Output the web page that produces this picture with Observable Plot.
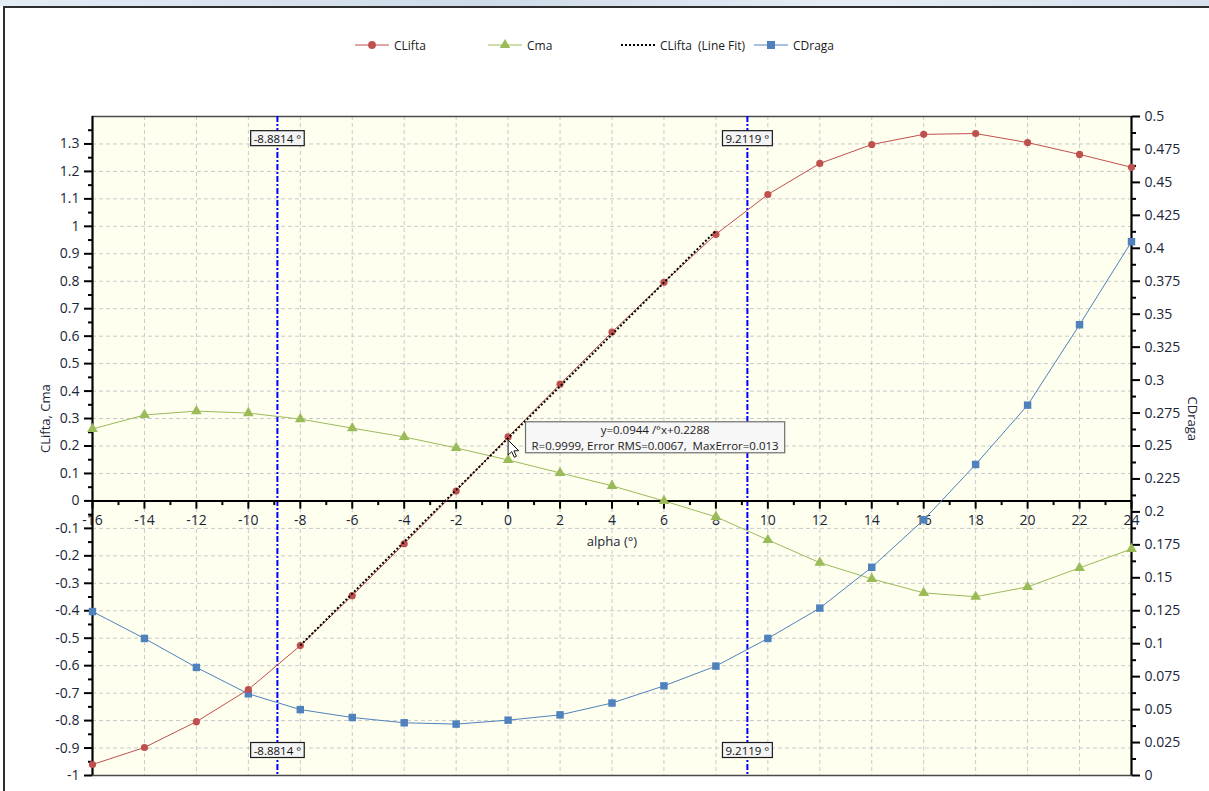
<!DOCTYPE html>
<html>
<head>
<meta charset="utf-8">
<script src="https://cdn.jsdelivr.net/npm/d3@7"></script>
<script src="https://cdn.jsdelivr.net/npm/@observablehq/plot@0.6"></script>
<style>
  html, body { margin: 0; padding: 0; background: #fff; }
  body { width: 1209px; height: 791px; overflow: hidden; position: relative;
         font-family: "Open Sans", "Noto Sans", sans-serif; }
  #strip { position: absolute; left: 0; top: 0; width: 1209px; height: 6px;
           background: linear-gradient(90deg, #e4ecf5, #cfdbe9 40%, #e6edf5 70%, #d7e1ec); z-index: 3; }
  #window { position: absolute; left: 3px; top: 6px; width: 1220px; height: 800px;
            border-left: 2px solid #2e2e2e; border-top: 2px solid #2e2e2e; z-index: 3; pointer-events: none; }
  #legend { position: relative; height: 79px; }
  #legend .items { position: absolute; left: 355px; top: 37px; display: grid;
                   grid-template-columns: repeat(4, 133px); font-size: 12px; color: #1b1b1b; }
  #legend .item { display: flex; align-items: center; white-space: pre; height: 16px; }
  #legend svg { margin-right: 5px; flex: none; }
  svg.chart text.pre { white-space: pre; }
</style>
</head>
<body>
<div id="strip"></div>
<div id="window"></div>
<div id="legend"><div class="items"></div></div>
<div id="chart"></div>
<script>
// Angle of attack (degrees) and aerodynamic coefficients
const alpha   = [-16, -14, -12, -10, -8, -6, -4, -2, 0, 2, 4, 6, 8, 10, 12, 14, 16, 18, 20, 22, 24];
const cLift   = [-0.960, -0.898, -0.804, -0.687, -0.527, -0.345, -0.156, 0.036, 0.233, 0.425, 0.615, 0.796, 0.971, 1.116, 1.229, 1.298, 1.335, 1.338, 1.305, 1.262, 1.215];
const cMoment = [0.262, 0.313, 0.327, 0.320, 0.298, 0.265, 0.233, 0.193, 0.149, 0.102, 0.055, 0.000, -0.058, -0.142, -0.225, -0.284, -0.335, -0.349, -0.313, -0.244, -0.175];
const cDrag   = [0.1244, 0.104, 0.082, 0.062, 0.050, 0.044, 0.040, 0.039, 0.042, 0.046, 0.055, 0.068, 0.083, 0.104, 0.127, 0.158, 0.194, 0.236, 0.281, 0.342, 0.405];

// Linear fit of CLift over the linear range
const fitRange = [-8, 8];
const fitSlope = 0.0944;
const fitIntercept = 0.2288;
const fitEquation = "y=0.0944 /°x+0.2288";
const fitStats = "R=0.9999, Error RMS=0.0067,  MaxError=0.013";

// Alpha where the fit line crosses the CLift curve limits
const markerAlphas = [-8.8814, 9.2119];

// Axis ticks
const xMajor = [-16, -14, -12, -10, -8, -6, -4, -2, 0, 2, 4, 6, 8, 10, 12, 14, 16, 18, 20, 22, 24];
const xMinor = [-15, -13, -11, -9, -7, -5, -3, -1, 1, 3, 5, 7, 9, 11, 13, 15, 17, 19, 21, 23];
const yMajor = [-1, -0.9, -0.8, -0.7, -0.6, -0.5, -0.4, -0.3, -0.2, -0.1, 0, 0.1, 0.2, 0.3, 0.4, 0.5, 0.6, 0.7, 0.8, 0.9, 1, 1.1, 1.2, 1.3];
const dragMajor = [0, 0.025, 0.05, 0.075, 0.1, 0.125, 0.15, 0.175, 0.2, 0.225, 0.25, 0.275, 0.3, 0.325, 0.35, 0.375, 0.4, 0.425, 0.45, 0.475, 0.5];

const seriesNames = ["CLifta", "Cma", "CLifta  (Line Fit)", "CDraga"];
const colors = { lift: "#c0504d", moment: "#9bbb59", fit: "#000000", drag: "#4f81bd" };

// Left scale domain; the drag axis on the right spans [0, 0.5] over the same height
const yDomain = [-1, 1.4];
const dragDomain = [0, 0.5];
const dragToY = v => yDomain[0] + (v - dragDomain[0]) * (yDomain[1] - yDomain[0]) / (dragDomain[1] - dragDomain[0]);
const yToDrag = y => dragDomain[0] + (y - yDomain[0]) * (dragDomain[1] - dragDomain[0]) / (yDomain[1] - yDomain[0]);

const rows = alpha.map((a, i) => ({ alpha: a, lift: cLift[i], moment: cMoment[i], drag: cDrag[i], dragY: dragToY(cDrag[i]) }));

const yMinor = d3.range(yMajor.length - 1).map(i => (yMajor[i] + yMajor[i + 1]) / 2).concat([1.35]);
const dragMinor = d3.range(dragMajor.length - 1).map(i => (dragMajor[i] + dragMajor[i + 1]) / 2);

const textColor = "#1b2638";
const fmt1 = d => String(Math.round(d * 10) / 10);
const fmtDrag = d => String(+yToDrag(d).toFixed(4));

// Mouse pointer glyph
const pointer = {
  draw(ctx) {
    ctx.moveTo(0, 0); ctx.lineTo(0, 15); ctx.lineTo(3.6, 11.6); ctx.lineTo(6.2, 17.2);
    ctx.lineTo(8.4, 16.2); ctx.lineTo(5.8, 10.8); ctx.lineTo(10.6, 10.6); ctx.closePath();
  }
};

const chart = Plot.plot({
  width: 1209,
  height: 712,
  marginTop: 37,
  marginBottom: 16,
  marginLeft: 92,
  marginRight: 78,
  className: "chart",
  style: { fontFamily: "'Open Sans', 'Noto Sans', sans-serif", fontSize: "14px", color: textColor, background: "transparent" },
  x: { domain: [-16, 24], axis: null },
  y: { domain: yDomain, axis: null },
  marks: [
    Plot.frame({ fill: "#fffff0", stroke: null }),
    Plot.gridX(xMajor.slice(1, -1), { stroke: "#c9c9c9", strokeOpacity: 1, strokeDasharray: "4,3" }),
    Plot.gridY(yMajor.slice(1), { stroke: "#c9c9c9", strokeOpacity: 1, strokeDasharray: "4,3" }),
    Plot.frame({ stroke: "#4a4a4a", strokeWidth: 1.5 }),

    // cursor-readout lines
    Plot.ruleX(markerAlphas, { stroke: "#0000ff", strokeWidth: 2, strokeDasharray: "6,2,2,2" }),

    // x axis drawn through y = 0
    Plot.ruleY([0], { stroke: "#000", strokeWidth: 2 }),
    Plot.ruleX(xMajor, { x: d => d, y1: 0, y2: -0.03, stroke: "#000", strokeWidth: 2 }),
    Plot.ruleX(xMinor, { x: d => d, y1: 0, y2: -0.017, stroke: "#000", strokeWidth: 2 }),
    Plot.text(xMajor, { x: d => d, y: () => 0, dy: 20, text: d => String(d), fill: textColor, fontSize: 14 }),
    Plot.text(["alpha (°)"], { y: () => 0, frameAnchor: "middle", dy: 41, text: d => d, fill: textColor, fontSize: 13 }),

    // left axis
    Plot.axisY(yMajor, { anchor: "left", tickSize: 8, tickPadding: 5, strokeWidth: 2, stroke: "#000", fill: textColor, tickFormat: fmt1, label: null, fontSize: 14 }),
    Plot.axisY(yMinor, { anchor: "left", tickSize: 4, tickPadding: 0, strokeWidth: 2, stroke: "#000", tickFormat: () => "", label: null }),
    Plot.ruleX([-16], { stroke: "#000", strokeWidth: 2 }),
    Plot.text(["CLifta, Cma"], { frameAnchor: "left", dx: -47, dy: 7, rotate: -90, text: d => d, fill: textColor, fontSize: 13 }),

    // right axis (drag coefficient)
    Plot.axisY(dragMajor.map(dragToY), { anchor: "right", tickSize: 8, tickPadding: 5, strokeWidth: 2, stroke: "#000", fill: textColor, tickFormat: fmtDrag, label: null, fontSize: 14 }),
    Plot.axisY(dragMinor.map(dragToY), { anchor: "right", tickSize: 4, tickPadding: 0, strokeWidth: 2, stroke: "#000", tickFormat: () => "", label: null }),
    Plot.ruleX([24], { stroke: "#000", strokeWidth: 2 }),
    Plot.text(["CDraga"], { frameAnchor: "right", dx: 61, dy: -5, rotate: 90, text: d => d, fill: textColor, fontSize: 13 }),

    // series
    Plot.line(rows, { x: "alpha", y: "moment", stroke: colors.moment, strokeWidth: 1 }),
    Plot.dot(rows, { x: "alpha", y: "moment", symbol: "triangle", r: 4, fill: colors.moment, stroke: null }),
    Plot.line(rows, { x: "alpha", y: "dragY", stroke: colors.drag, strokeWidth: 1 }),
    Plot.dot(rows, { x: "alpha", y: "dragY", symbol: "square", r: 4.2, fill: colors.drag, stroke: null }),
    Plot.line(rows, { x: "alpha", y: "lift", stroke: colors.lift, strokeWidth: 1 }),
    Plot.dot(rows, { x: "alpha", y: "lift", r: 3.6, fill: colors.lift, stroke: null }),
    Plot.line(fitRange, { x: d => d, y: d => fitSlope * d + fitIntercept, stroke: colors.fit, strokeWidth: 2, strokeDasharray: "2,2", strokeLinecap: "butt" }),

    // readout tags on the marker lines
    Plot.text(markerAlphas, { x: d => d, frameAnchor: "top", dy: 18, text: d => `${d} °`, fontSize: 11.5, fill: "#111", className: "tag" }),
    Plot.text(markerAlphas, { x: d => d, frameAnchor: "bottom", dy: -21, text: d => `${d} °`, fontSize: 11.5, fill: "#111", className: "tag" }),

    // fit tooltip
    Plot.dot([0], { x: d => d, y: () => fitIntercept, symbol: pointer, r: 1, fill: "#fff", stroke: "#111", strokeWidth: 1, dy: 2 }),
    Plot.text([fitEquation], { x: () => 0, y: () => fitIntercept, dx: 147, dy: -8, text: d => d, fontSize: 11.5, fill: "#1a1a1a", className: "tip" }),
    Plot.text([fitStats], { x: () => 0, y: () => fitIntercept, dx: 147, dy: 8, text: d => d, fontSize: 11.5, fill: "#1a1a1a", className: "tip" })
  ]
});

document.getElementById("chart").appendChild(chart);

// boxes behind the tag and tooltip texts
const ns = "http://www.w3.org/2000/svg";
function addBox(before, box, padX, padY, fill, stroke) {
  const r = document.createElementNS(ns, "rect");
  r.setAttribute("x", box.left - padX);
  r.setAttribute("y", box.top - padY);
  r.setAttribute("width", box.right - box.left + 2 * padX);
  r.setAttribute("height", box.bottom - box.top + 2 * padY);
  r.setAttribute("fill", fill);
  r.setAttribute("stroke", stroke);
  r.setAttribute("stroke-width", 1.2);
  chart.insertBefore(r, before);
}
function localBox(el) {
  const s = chart.getBoundingClientRect(), b = el.getBoundingClientRect();
  return { left: b.left - s.left, right: b.right - s.left, top: b.top - s.top, bottom: b.bottom - s.top };
}
chart.querySelectorAll("g.tag").forEach(g => {
  g.querySelectorAll("text").forEach(t => addBox(g, localBox(t), 3, 0, "#f4f4f4", "#1a1a1a"));
});
const tipGroups = Array.from(chart.querySelectorAll("g.tip"));
if (tipGroups.length) {
  tipGroups.forEach(g => g.querySelectorAll("text").forEach(t => t.classList.add("pre")));
  const boxes = tipGroups.map(localBox);
  const union = {
    left: d3.min(boxes, b => b.left), right: d3.max(boxes, b => b.right),
    top: d3.min(boxes, b => b.top), bottom: d3.max(boxes, b => b.bottom)
  };
  addBox(tipGroups[0], union, 6, 0, "#f7f7f7", "#6e6e6e");
}

// legend
const legendItems = [
  { name: seriesNames[0], color: colors.lift, symbol: d3.symbolCircle, dash: null },
  { name: seriesNames[1], color: colors.moment, symbol: d3.symbolTriangle, dash: null },
  { name: seriesNames[2], color: colors.fit, symbol: null, dash: "2,2" },
  { name: seriesNames[3], color: colors.drag, symbol: d3.symbolSquare, dash: null }
];
const holder = d3.select("#legend .items");
for (const it of legendItems) {
  const item = holder.append("div").attr("class", "item");
  const sw = item.append("svg").attr("width", 34).attr("height", 12);
  sw.append("line").attr("x1", 0).attr("x2", 34).attr("y1", 6).attr("y2", 6)
    .attr("stroke", it.color).attr("stroke-width", it.dash ? 2 : 1.2)
    .attr("stroke-dasharray", it.dash);
  if (it.symbol) {
    sw.append("path").attr("transform", "translate(17,6)")
      .attr("d", d3.symbol(it.symbol, it.symbol === d3.symbolSquare ? 64 : 48)()).attr("fill", it.color);
  }
  item.append("span").text(it.name);
}
</script>
</body>
</html>
